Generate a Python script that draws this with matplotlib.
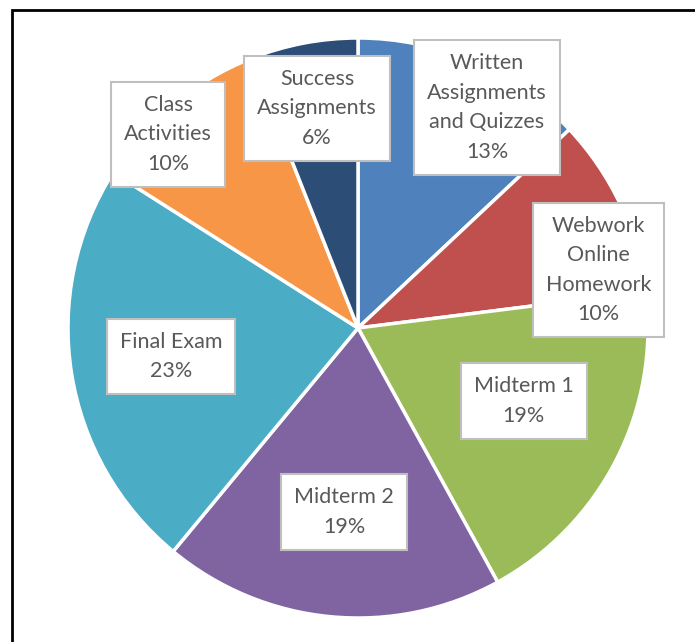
import matplotlib
matplotlib.use('Agg')
import matplotlib.pyplot as plt
from matplotlib.patches import Rectangle

categories = ["Written\nAssignments\nand Quizzes", "Webwork\nOnline\nHomework", "Midterm 1",
              "Midterm 2", "Final Exam", "Class\nActivities", "Success\nAssignments"]
shares = [13, 10, 19, 19, 23, 10, 6]
colors = ["#4F81BD", "#C0504D", "#9BBB59", "#8064A2", "#4BACC6", "#F79646", "#2C4D75"]
# label box centres in pie coordinates (radius = 1)
label_pos = [(0.445, 0.76), (0.83, 0.20), (0.572, -0.252), (-0.048, -0.635),
             (-0.645, -0.098), (-0.655, 0.668), (-0.141, 0.758)]

fig = plt.figure(figsize=(6.95, 6.42), dpi=100)
fig.patches.append(Rectangle((12 / 695, -0.1), 1.2, 1 - 10 / 642 + 0.1, transform=fig.transFigure,
                             fill=False, edgecolor="black", linewidth=2))

r = 290
cx, cy = 358, 328
ax = fig.add_axes([(cx - r) / 695, 1 - (cy + r) / 642, 2 * r / 695, 2 * r / 642])
ax.pie(shares, colors=colors, startangle=90, counterclock=False, radius=1,
       wedgeprops=dict(edgecolor="white", linewidth=2.5))
ax.set_xlim(-1, 1)
ax.set_ylim(-1, 1)

for name, val, (x, y) in zip(categories, shares, label_pos):
    ax.text(x, y, f"{name}\n{val}%", ha="center", va="center", fontsize=15.5,
            family="Lato", color="#595959", linespacing=1.6,
            bbox=dict(boxstyle="square,pad=0.6", facecolor="white", edgecolor="#BFBFBF", linewidth=1.5))

fig.savefig("out.png", dpi=100)
